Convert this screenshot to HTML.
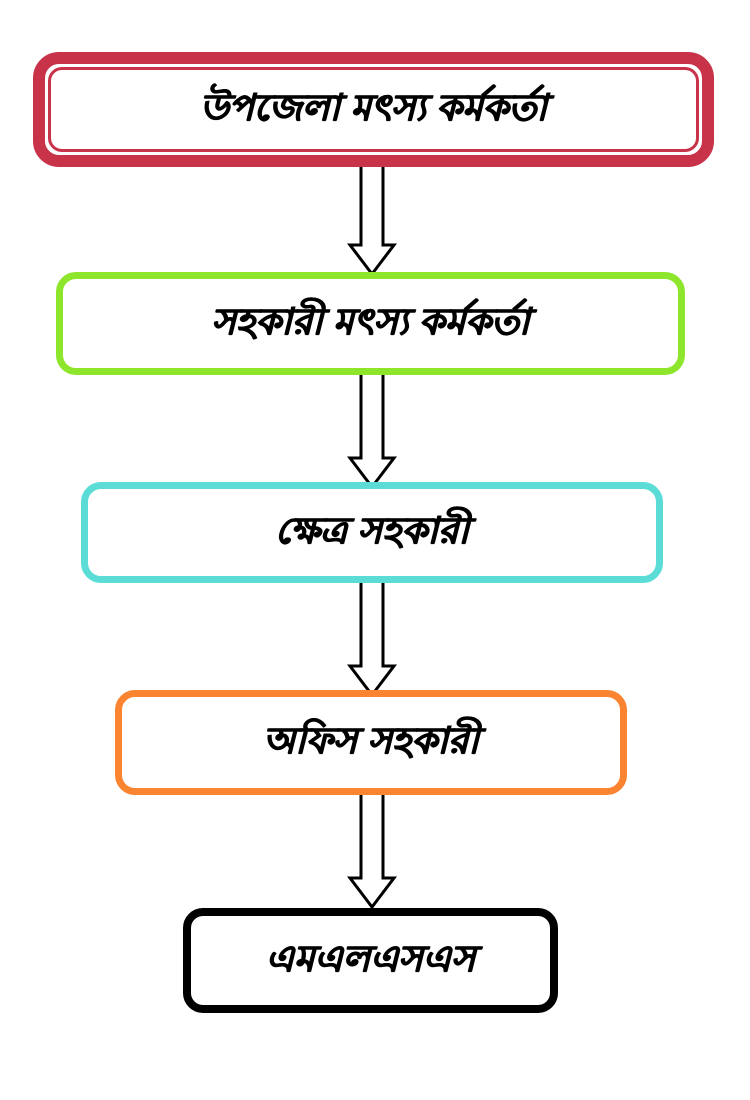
<!DOCTYPE html>
<html><head><meta charset="utf-8"><style>
body{margin:0;width:750px;height:1100px;background:#fff;position:relative;overflow:hidden;font-family:"Liberation Sans","Noto Sans CJK SC",sans-serif}
.b{position:absolute;box-sizing:border-box;background:#fff;display:flex;align-items:center;justify-content:center;font-style:italic;font-weight:bold;font-size:37px;color:#000;text-shadow:0.6px 0 0 #000,-0.6px 0 0 #000,0 0.6px 0 #000}
svg{position:absolute;left:0;top:0}
</style></head><body>
<svg width="750" height="1100">
<g fill="#fff" stroke="#000" stroke-width="3" stroke-linejoin="miter">
<polygon points="361,158 383,158 383,245 394,245 372,274 350,245 361,245"/>
<polygon points="361,372 383,372 383,458 394,458 372,487 350,458 361,458"/>
<polygon points="361,580 383,580 383,666 394,666 372,695 350,666 361,666"/>
<polygon points="361,792 383,792 383,878 394,878 372,907 350,878 361,878"/>
</g>
</svg>
<div class="b" style="left:33px;top:52px;width:681px;height:115px;border:12px solid #c8334a;border-radius:26px">
<div style="position:absolute;left:3px;top:3px;right:3px;bottom:3px;border:3px solid #c8334a;border-radius:14px"></div>
<span style="position:relative">উপজেলা মৎস্য কর্মকর্তা</span></div>
<div class="b" style="left:56px;top:272px;width:629px;height:103px;border:7px solid #8ee62c;border-radius:20px">সহকারী মৎস্য কর্মকর্তা</div>
<div class="b" style="left:81px;top:482px;width:582px;height:101px;border:7px solid #5bdcd6;border-radius:20px">ক্ষেত্র সহকারী</div>
<div class="b" style="left:115px;top:690px;width:512px;height:105px;border:7px solid #fb8431;border-radius:20px">অফিস সহকারী</div>
<div class="b" style="left:183px;top:908px;width:375px;height:105px;border:8px solid #000;border-radius:20px">এমএলএসএস</div>
</body></html>
